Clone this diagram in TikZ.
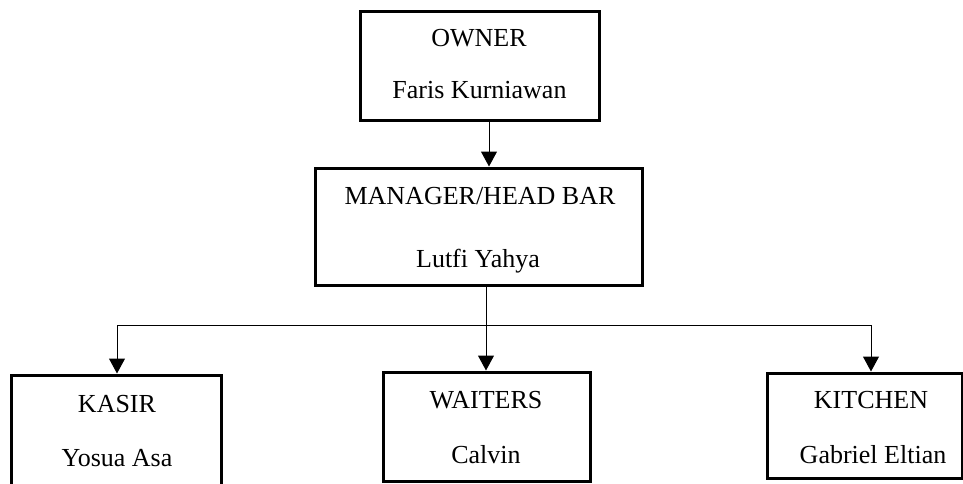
\documentclass[tikz,border=0pt]{standalone}
\usepackage{fontspec}
\setmainfont{Liberation Serif}
\usetikzlibrary{arrows.meta}
\begin{document}
\begin{tikzpicture}[x=1pt,y=-1pt,
  box/.style={draw=black,line width=3pt,fill=white,inner sep=0pt,rectangle},
  lbl/.style={anchor=base,inner sep=0pt,font=\fontsize{26}{30}\selectfont},
  conn/.style={draw=black,line width=1pt},
  arr/.style={conn,-{Triangle[width=16pt,length=15pt]}}]
\useasboundingbox (0,0) rectangle (963,484);
\clip (0,0) rectangle (963,484);
\fill[white] (0,0) rectangle (963,484);
% boxes
\node[box,minimum width=239pt,minimum height=109pt] (owner) at (479.5,66.5) {};
\node[box,minimum width=327pt,minimum height=117pt] (manager) at (478.5,226.5) {};
\node[box,minimum width=210pt,minimum height=140pt] (kasir) at (116,445) {};
\node[box,minimum width=207pt,minimum height=109pt] (waiters) at (486.5,426.5) {};
\node[box,minimum width=195pt,minimum height=105pt] (kitchen) at (864.5,425.5) {};
% texts
\node[lbl] (t1) at (479,46.5) {OWNER};
\node[lbl] (t2) at (479.5,99) {Faris Kurniawan};
\node[lbl] (t3) at (480,204) {MANAGER/HEAD BAR};
\node[lbl] (t4) at (478,267) {Lutfi Yahya};
\node[lbl] (t5) at (117,412) {KASIR};
\node[lbl] (t6) at (117,466) {Yosua Asa};
\node[lbl] (t7) at (486,408) {WAITERS};
\node[lbl] (t8) at (486,463) {Calvin};
\node[lbl] (t9) at (871,408) {KITCHEN};
\node[lbl] (t10) at (873,463) {Gabriel Eltian};
% connectors
\coordinate (ax) at (489,0);
\coordinate (bx) at (486,0);
\coordinate (kx) at (871,0);
\coordinate (jx) at (117,0);
\coordinate (junc) at (486,325);
\draw[arr] (owner.south -| ax) -- (manager.north -| ax);
\draw[conn] (manager.south -| bx) -- (junc);
\draw[arr] (junc) -| (kasir.north -| jx);
\draw[arr] (junc) -- (waiters.north -| bx);
\draw[arr] (junc) -| (kitchen.north -| kx);
\end{tikzpicture}
\end{document}
